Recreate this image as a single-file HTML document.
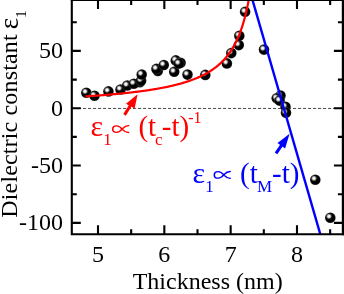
<!DOCTYPE html>
<html><head><meta charset="utf-8"><title>chart</title>
<style>
html,body{margin:0;padding:0;background:#fff;}
body{width:344px;height:294px;overflow:hidden;}
svg{display:block;will-change:transform;}
text{font-family:"Liberation Serif",serif;}
</style></head><body>
<svg width="344" height="294" viewBox="0 0 344 294">
<defs>
<radialGradient id="bg" cx="0.375" cy="0.37" r="0.62" fx="0.375" fy="0.37">
<stop offset="0" stop-color="#ffffff"/>
<stop offset="0.11" stop-color="#fafafa"/>
<stop offset="0.22" stop-color="#cfcfcf"/>
<stop offset="0.33" stop-color="#6e6e6e"/>
<stop offset="0.44" stop-color="#181818"/>
<stop offset="0.53" stop-color="#000000"/>
<stop offset="1" stop-color="#000000"/>
</radialGradient>
<clipPath id="plot"><rect x="71.5" y="0" width="271" height="234.3"/></clipPath>
</defs>
<rect width="344" height="294" fill="#fff"/>

<line x1="73" y1="108.45" x2="342" y2="108.45" stroke="#1a1a1a" stroke-width="0.8" stroke-dasharray="3.1 1.9"/>
<g>
<circle cx="86.3" cy="92.7" r="5.3" fill="url(#bg)" stroke="#ffffff" stroke-opacity="0.22" stroke-width="0.7"/>
<circle cx="94.5" cy="95.8" r="5.3" fill="url(#bg)" stroke="#ffffff" stroke-opacity="0.22" stroke-width="0.7"/>
<circle cx="108.4" cy="91.4" r="5.3" fill="url(#bg)" stroke="#ffffff" stroke-opacity="0.22" stroke-width="0.7"/>
<circle cx="120.5" cy="89.5" r="5.3" fill="url(#bg)" stroke="#ffffff" stroke-opacity="0.22" stroke-width="0.7"/>
<circle cx="127.2" cy="85.5" r="5.3" fill="url(#bg)" stroke="#ffffff" stroke-opacity="0.22" stroke-width="0.7"/>
<circle cx="139.9" cy="82.2" r="5.3" fill="url(#bg)" stroke="#ffffff" stroke-opacity="0.22" stroke-width="0.7"/>
<circle cx="133.8" cy="83.7" r="5.3" fill="url(#bg)" stroke="#ffffff" stroke-opacity="0.22" stroke-width="0.7"/>
<circle cx="141.1" cy="80.8" r="5.3" fill="url(#bg)" stroke="#ffffff" stroke-opacity="0.22" stroke-width="0.7"/>
<circle cx="141.7" cy="74.5" r="5.3" fill="url(#bg)" stroke="#ffffff" stroke-opacity="0.22" stroke-width="0.7"/>
<circle cx="157.8" cy="70.9" r="5.3" fill="url(#bg)" stroke="#ffffff" stroke-opacity="0.22" stroke-width="0.7"/>
<circle cx="156.4" cy="68.9" r="5.3" fill="url(#bg)" stroke="#ffffff" stroke-opacity="0.22" stroke-width="0.7"/>
<circle cx="163.8" cy="65.0" r="5.3" fill="url(#bg)" stroke="#ffffff" stroke-opacity="0.22" stroke-width="0.7"/>
<circle cx="174.2" cy="71.8" r="5.3" fill="url(#bg)" stroke="#ffffff" stroke-opacity="0.22" stroke-width="0.7"/>
<circle cx="175.8" cy="60.4" r="5.3" fill="url(#bg)" stroke="#ffffff" stroke-opacity="0.22" stroke-width="0.7"/>
<circle cx="180.6" cy="62.8" r="5.3" fill="url(#bg)" stroke="#ffffff" stroke-opacity="0.22" stroke-width="0.7"/>
<circle cx="178.9" cy="63.6" r="5.3" fill="url(#bg)" stroke="#ffffff" stroke-opacity="0.22" stroke-width="0.7"/>
<circle cx="187.5" cy="74.6" r="5.3" fill="url(#bg)" stroke="#ffffff" stroke-opacity="0.22" stroke-width="0.7"/>
<circle cx="205.3" cy="74.9" r="5.3" fill="url(#bg)" stroke="#ffffff" stroke-opacity="0.22" stroke-width="0.7"/>
<circle cx="226.9" cy="63.4" r="5.3" fill="url(#bg)" stroke="#ffffff" stroke-opacity="0.22" stroke-width="0.7"/>
<circle cx="231.3" cy="53.1" r="5.3" fill="url(#bg)" stroke="#ffffff" stroke-opacity="0.22" stroke-width="0.7"/>
<circle cx="238.8" cy="45.1" r="5.3" fill="url(#bg)" stroke="#ffffff" stroke-opacity="0.22" stroke-width="0.7"/>
<circle cx="239.3" cy="35.8" r="5.3" fill="url(#bg)" stroke="#ffffff" stroke-opacity="0.22" stroke-width="0.7"/>
<circle cx="245.1" cy="11.8" r="5.3" fill="url(#bg)" stroke="#ffffff" stroke-opacity="0.22" stroke-width="0.7"/>
<circle cx="264.0" cy="49.6" r="5.3" fill="url(#bg)" stroke="#ffffff" stroke-opacity="0.22" stroke-width="0.7"/>
<circle cx="280.5" cy="95.5" r="5.3" fill="url(#bg)" stroke="#ffffff" stroke-opacity="0.22" stroke-width="0.7"/>
<circle cx="276.7" cy="98.3" r="5.3" fill="url(#bg)" stroke="#ffffff" stroke-opacity="0.22" stroke-width="0.7"/>
<circle cx="279.6" cy="100.6" r="5.3" fill="url(#bg)" stroke="#ffffff" stroke-opacity="0.22" stroke-width="0.7"/>
<circle cx="285.5" cy="106.7" r="5.3" fill="url(#bg)" stroke="#ffffff" stroke-opacity="0.22" stroke-width="0.7"/>
<circle cx="286.0" cy="112.8" r="5.3" fill="url(#bg)" stroke="#ffffff" stroke-opacity="0.22" stroke-width="0.7"/>
<circle cx="315.3" cy="179.7" r="5.3" fill="url(#bg)" stroke="#ffffff" stroke-opacity="0.22" stroke-width="0.7"/>
<circle cx="330.3" cy="217.7" r="5.3" fill="url(#bg)" stroke="#ffffff" stroke-opacity="0.22" stroke-width="0.7"/>
</g>
<g clip-path="url(#plot)" fill="none" stroke-linecap="butt">
<path d="M85.60 96.38 L86.26 96.34 L86.92 96.29 L87.59 96.25 L88.25 96.20 L88.91 96.16 L89.58 96.11 L90.24 96.07 L90.90 96.02 L91.57 95.98 L92.23 95.93 L92.89 95.89 L93.56 95.84 L94.22 95.79 L94.88 95.74 L95.55 95.70 L96.21 95.65 L96.87 95.60 L97.54 95.55 L98.20 95.50 L98.86 95.45 L99.53 95.40 L100.19 95.35 L100.85 95.30 L101.52 95.25 L102.18 95.20 L102.84 95.14 L103.51 95.09 L104.17 95.04 L104.83 94.99 L105.50 94.93 L106.16 94.88 L106.82 94.82 L107.49 94.77 L108.15 94.71 L108.81 94.66 L109.48 94.60 L110.14 94.54 L110.80 94.48 L111.46 94.43 L112.13 94.37 L112.79 94.31 L113.45 94.25 L114.12 94.19 L114.78 94.13 L115.44 94.07 L116.11 94.01 L116.77 93.94 L117.43 93.88 L118.10 93.82 L118.76 93.75 L119.42 93.69 L120.09 93.62 L120.75 93.56 L121.41 93.49 L122.08 93.43 L122.74 93.36 L123.40 93.29 L124.07 93.22 L124.73 93.15 L125.39 93.08 L126.06 93.01 L126.72 92.94 L127.38 92.87 L128.05 92.80 L128.71 92.72 L129.37 92.65 L130.04 92.58 L130.70 92.50 L131.36 92.42 L132.03 92.35 L132.69 92.27 L133.35 92.19 L134.02 92.11 L134.68 92.03 L135.34 91.95 L136.01 91.87 L136.67 91.79 L137.33 91.71 L138.00 91.62 L138.66 91.54 L139.32 91.45 L139.99 91.37 L140.65 91.28 L141.31 91.19 L141.98 91.10 L142.64 91.01 L143.30 90.92 L143.97 90.83 L144.63 90.73 L145.29 90.64 L145.96 90.54 L146.62 90.45 L147.28 90.35 L147.95 90.25 L148.61 90.15 L149.27 90.05 L149.94 89.95 L150.60 89.85 L151.26 89.75 L151.93 89.64 L152.59 89.53 L153.25 89.43 L153.92 89.32 L154.58 89.21 L155.24 89.10 L155.91 88.98 L156.57 88.87 L157.23 88.76 L157.90 88.64 L158.56 88.52 L159.22 88.40 L159.89 88.28 L160.55 88.16 L161.21 88.03 L161.88 87.91 L162.54 87.78 L163.20 87.65 L163.87 87.52 L164.53 87.39 L165.19 87.26 L165.86 87.12 L166.52 86.99 L167.18 86.85 L167.85 86.71 L168.51 86.56 L169.17 86.42 L169.84 86.27 L170.50 86.12 L171.16 85.97 L171.83 85.82 L172.49 85.67 L173.15 85.51 L173.82 85.35 L174.48 85.19 L175.14 85.03 L175.81 84.86 L176.47 84.69 L177.13 84.52 L177.79 84.35 L178.46 84.18 L179.12 84.00 L179.78 83.82 L180.45 83.63 L181.11 83.45 L181.77 83.26 L182.44 83.07 L183.10 82.87 L183.76 82.67 L184.43 82.47 L185.09 82.27 L185.75 82.06 L186.42 81.85 L187.08 81.63 L187.74 81.42 L188.41 81.20 L189.07 80.97 L189.73 80.74 L190.40 80.51 L191.06 80.27 L191.72 80.03 L192.39 79.79 L193.05 79.54 L193.71 79.28 L194.38 79.03 L195.04 78.76 L195.70 78.50 L196.37 78.22 L197.03 77.95 L197.69 77.66 L198.36 77.37 L199.02 77.08 L199.68 76.78 L200.35 76.48 L201.01 76.17 L201.67 75.85 L202.34 75.53 L203.00 75.20 L203.66 74.86 L204.33 74.52 L204.99 74.16 L205.65 73.81 L206.32 73.44 L206.98 73.07 L207.64 72.69 L208.31 72.30 L208.97 71.90 L209.63 71.49 L210.30 71.07 L210.96 70.65 L211.62 70.21 L212.29 69.76 L212.95 69.31 L213.61 68.84 L214.28 68.36 L214.94 67.87 L215.60 67.36 L216.27 66.85 L216.93 66.32 L217.59 65.78 L218.26 65.22 L218.92 64.65 L219.58 64.06 L220.25 63.46 L220.91 62.83 L221.57 62.20 L222.24 61.54 L222.90 60.87 L223.56 60.17 L224.23 59.46 L224.89 58.72 L225.55 57.96 L226.22 57.18 L226.88 56.37 L227.54 55.53 L228.21 54.67 L228.87 53.78 L229.53 52.86 L230.20 51.91 L230.86 50.93 L231.52 49.90 L232.19 48.85 L232.85 47.75 L233.51 46.61 L234.18 45.43 L234.84 44.21 L235.50 42.93 L236.17 41.60 L236.83 40.22 L237.49 38.78 L238.16 37.28 L238.82 35.71 L239.48 34.06 L240.15 32.35 L240.81 30.55 L241.47 28.66 L242.14 26.68 L242.80 24.60 L243.46 22.41 L244.12 20.11 L244.79 17.67 L245.45 15.10 L246.11 12.37 L246.78 9.49 L247.44 6.42 L248.10 3.15 L248.77 -0.33 L249.43 -4.04 L250.09 -8.03 L250.76 -12.30 L251.42 -16.90 L252.08 -21.87" stroke="#ff0000" stroke-width="2.2"/>
<line x1="249.60" y1="-10" x2="321.98" y2="240" stroke="#0000ff" stroke-width="2.4"/>
</g>
<g stroke="#000" stroke-width="2.1" fill="none" stroke-linecap="butt">
<path d="M71.80 -2 V234.20 H345"/>
<rect x="341.8" y="-2" width="4" height="237.25" fill="#000" stroke="none"/>
<path d="M70.80 0.00 H345"/>
<path d="M98.00 234.20 v-9 M98.00 0.00 v9"/>
<path d="M164.33 234.20 v-9 M164.33 0.00 v9"/>
<path d="M230.66 234.20 v-9 M230.66 0.00 v9"/>
<path d="M296.99 234.20 v-9 M296.99 0.00 v9"/>
<path d="M131.16 234.20 v-5 M131.16 0.00 v5"/>
<path d="M197.50 234.20 v-5 M197.50 0.00 v5"/>
<path d="M263.82 234.20 v-5 M263.82 0.00 v5"/>
<path d="M330.15 234.20 v-5 M330.15 0.00 v5"/>
<path d="M71.80 50.92 h9 M342.90 50.92 h-9"/>
<path d="M71.80 108.25 h9 M342.90 108.25 h-9"/>
<path d="M71.80 165.57 h9 M342.90 165.57 h-9"/>
<path d="M71.80 222.90 h9 M342.90 222.90 h-9"/>
<path d="M71.80 22.26 h5 M342.90 22.26 h-5"/>
<path d="M71.80 79.59 h5 M342.90 79.59 h-5"/>
<path d="M71.80 136.91 h5 M342.90 136.91 h-5"/>
<path d="M71.80 194.24 h5 M342.90 194.24 h-5"/>
</g>
<g font-size="24px" fill="#000">
<text x="63.0" y="58.42" text-anchor="end">50</text>
<text x="63.0" y="115.75" text-anchor="end">0</text>
<text x="63.0" y="173.07" text-anchor="end">-50</text>
<text x="63.0" y="230.40" text-anchor="end">-100</text>
<text x="98.00" y="261.7" text-anchor="middle">5</text>
<text x="164.33" y="261.7" text-anchor="middle">6</text>
<text x="230.66" y="261.7" text-anchor="middle">7</text>
<text x="296.99" y="261.7" text-anchor="middle">8</text>
</g>
<text x="207.7" y="289.2" font-size="24px" text-anchor="middle" fill="#000">Thickness (nm)</text>
<text transform="translate(17.4,217.7) rotate(-90)" font-size="24px" letter-spacing="0.15" fill="#000">Dielectric constant</text>
<text transform="translate(17.6,29.2) rotate(-90)" font-size="27px" fill="#000">ε</text>
<text transform="translate(26.4,18.1) rotate(-90)" font-size="15.5px" fill="#000">1</text>
<g fill="#ff0000">
<text x="90.6" y="136.2" font-size="30px">ε</text>
<text x="103.3" y="145.4" font-size="17px">1</text>
<path transform="translate(112.00,129.10) scale(1.000,0.82)" d="M17.2 -4.1 C14.6 -4.4 12.6 -3.2 10.6 -0.6 C8.6 2.4 6.8 4.0 4.4 4.0 C2.2 4.0 0.7 2.4 0.7 0 C0.7 -2.4 2.2 -4.0 4.4 -4.0 C6.8 -4.0 8.6 -2.4 10.6 0.6 C12.6 3.2 14.6 4.4 17.2 4.1" fill="none" stroke="#ff0000" stroke-width="1.6"/>
<text x="138.4" y="136.2" font-size="29px">(t</text>
<text x="154.9" y="144.7" font-size="17px">c</text>
<text x="161.8" y="136.2" font-size="29px">-t)</text>
<text x="188.2" y="122.6" font-size="16px">-1</text>
<path d="M124.5 114.9 L131.2 104.3" stroke="#ff0000" stroke-width="3" fill="none"/>
<path d="M137.6 94.2 L126.0 103.8 L134.6 108.6 Z"/>
</g>
<g fill="#0000ff">
<text x="192.6" y="182.5" font-size="30px">ε</text>
<text x="205.2" y="191.7" font-size="17px">1</text>
<path transform="translate(213.60,174.90) scale(1.000,0.82)" d="M17.2 -4.1 C14.6 -4.4 12.6 -3.2 10.6 -0.6 C8.6 2.4 6.8 4.0 4.4 4.0 C2.2 4.0 0.7 2.4 0.7 0 C0.7 -2.4 2.2 -4.0 4.4 -4.0 C6.8 -4.0 8.6 -2.4 10.6 0.6 C12.6 3.2 14.6 4.4 17.2 4.1" fill="none" stroke="#0000ff" stroke-width="1.6"/>
<text x="240.1" y="182.5" font-size="29px">(t</text>
<text x="256.9" y="191.6" font-size="17px">M</text>
<text x="272.0" y="182.5" font-size="29px">-t)</text>
<path d="M276.0 153.4 L282.0 144.7" stroke="#0000ff" stroke-width="3.1" fill="none"/>
<path d="M289.6 133.7 L277.5 143.0 L285.1 148.4 Z"/>
</g>
</svg></body></html>
